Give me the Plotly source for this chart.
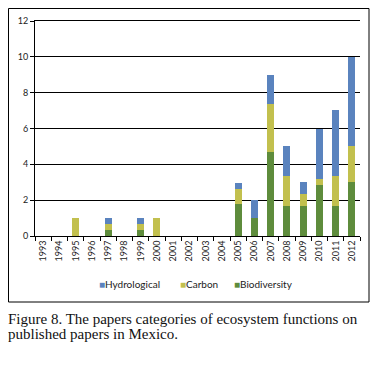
import plotly.graph_objects as go

years = [str(y) for y in range(1993, 2013)]
biodiversity = [0, 0, 0, 0, 0.33, 0, 0.33, 0, 0, 0, 0, 0, 1.8, 1, 4.67, 1.67, 1.67, 2.83, 1.67, 3]
carbon =       [0, 0, 1, 0, 0.33, 0, 0.33, 1, 0, 0, 0, 0, 0.83, 0, 2.67, 1.67, 0.67, 0.33, 1.67, 2]
hydrological = [0, 0, 0, 0, 0.33, 0, 0.33, 0, 0, 0, 0, 0, 0.35, 1, 1.67, 1.67, 0.67, 2.83, 3.67, 5]

series_names = ["Biodiversity", "Carbon", "Hydrological"]
series_colors = ["#5E8C3C", "#C2C04E", "#5A83BE"]
series_values = [biodiversity, carbon, hydrological]

# page has an 8px body margin; figure coordinates = page coordinates - 8
OFF = 8
W, H = 378 - OFF, 370 - OFF
L, R, T, B = 35 - OFF, 18, 21 - OFF, 134
pw, ph = W - L - R, H - T - B

def px(x):  # page x -> paper x
    return (x - OFF - L) / pw

def py(y):  # page y -> paper y
    return (H - B - (y - OFF)) / ph

fig = go.Figure()
for name, color, vals in zip(series_names, series_colors, series_values):
    fig.add_trace(go.Bar(x=years, y=vals, name=name, marker=dict(color=color, line=dict(width=0))))

sans = "Lato, 'Open Sans', sans-serif"
tick_font = dict(family=sans, size=9, color="#222")

fig.update_layout(
    template="none",
    width=W, height=H,
    margin=dict(l=L, r=R, t=T, b=B, autoexpand=False),
    barmode="stack",
    bargap=0.56,
    plot_bgcolor="white",
    paper_bgcolor="white",
    showlegend=False,
    xaxis=dict(type="category", tickangle=-90, tickfont=tick_font, showline=True, linecolor="black",
               linewidth=1, mirror=True, ticks="outside", tickson="boundaries", ticklen=4, tickcolor="black",
               showgrid=False, automargin=False, zeroline=False),
    yaxis=dict(range=[0, 12], dtick=2, tickfont=tick_font, showline=True, linecolor="black", linewidth=1,
               ticks="outside", ticklen=4, tickcolor="black", showgrid=True, gridcolor="#000000",
               gridwidth=1, zeroline=False, automargin=False),
)

fig.add_shape(type="rect", xref="paper", yref="paper", x0=px(8.5), x1=px(369), y0=py(302), y1=py(8.5),
              line=dict(color="black", width=1), fillcolor="rgba(0,0,0,0)", layer="above")

# legend (reference order: Hydrological, Carbon, Biodiversity)
legend_x = {"Hydrological": 97, "Carbon": 178, "Biodiversity": 232}
for n, c in list(zip(series_names, series_colors))[::-1]:
    fig.add_annotation(text=f"<span style='color:{c}'>■</span>{n}", xref="paper", yref="paper",
                       x=px(legend_x[n]), y=py(284), xanchor="left", yanchor="middle", showarrow=False,
                       font=dict(family=sans, size=10, color="#222"))

cap_font = dict(family="'Liberation Serif', 'DejaVu Serif', serif", size=15, color="#111")
fig.add_annotation(text="Figure 8. The papers categories of ecosystem functions on", xref="paper", yref="paper",
                   x=px(6), y=py(319), xanchor="left", yanchor="middle", showarrow=False, font=cap_font)
fig.add_annotation(text="published papers in Mexico.", xref="paper", yref="paper",
                   x=px(6), y=py(334), xanchor="left", yanchor="middle", showarrow=False, font=cap_font)

fig.write_html("out.html")
